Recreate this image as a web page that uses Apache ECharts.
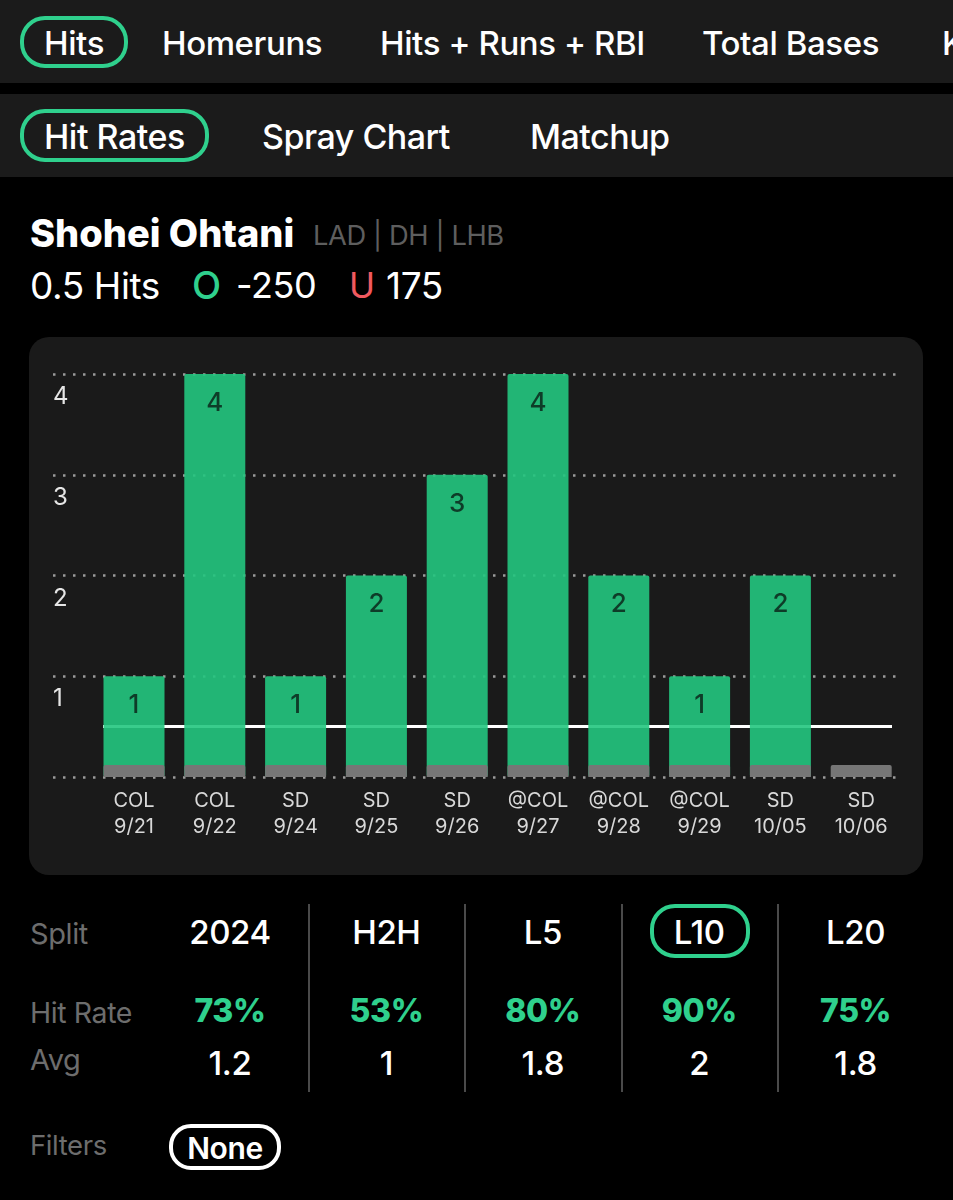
<!DOCTYPE html>
<html>
<head>
<meta charset="utf-8">
<script src="https://cdn.jsdelivr.net/npm/echarts@6/dist/echarts.min.js"></script>
<style>
html,body{margin:0;padding:0;background:#000;width:953px;height:1200px;overflow:hidden;font-family:Inter,"Noto Sans",sans-serif;}
.band{position:absolute;left:0;width:953px;height:83px;background:#1b1b1b;}
#card{position:absolute;left:29px;top:337px;width:894px;height:538px;background:#1a1a1a;border-radius:20px;}
#chart{position:absolute;left:0;top:0;width:953px;height:1200px;}
.t{position:absolute;white-space:nowrap;line-height:1;transform:translateY(-50%);letter-spacing:-0.4px;}
.c{transform:translate(-50%,-50%);}
.pill{position:absolute;box-sizing:border-box;border:4px solid #2fd08d;border-radius:24px;}
.div{position:absolute;width:2px;top:904px;height:188px;background:#4a4a4a;}
</style>
</head>
<body>
<div class="band" style="top:0"></div>
<div class="band" style="top:94px"></div>
<div id="card"></div>
<div id="ui"></div>
<div id="chart"></div>
<script>
// ----- chart data -----
const opponents = ['COL','COL','SD','SD','SD','@COL','@COL','@COL','SD','SD'];
const dates = ['9/21','9/22','9/24','9/25','9/26','9/27','9/28','9/29','10/05','10/06'];
const hits = [1,4,1,2,3,4,2,1,2,0];
const baseStub = [0.12,0.12,0.12,0.12,0.12,0.12,0.12,0.12,0.12,0.12];
const propLine = 0.5;
const yTicks = [0,1,2,3,4];
// ----- page text -----
const marketTabs = ['Hits','Homeruns','Hits + Runs + RBI','Total Bases','K'];
const viewTabs = ['Hit Rates','Spray Chart','Matchup'];
const splits = ['2024','H2H','L5','L10','L20'];
const hitRates = ['73%','53%','80%','90%','75%'];
const avgs = ['1.2','1','1.8','2','1.8'];

const ui = document.getElementById('ui');
function text(s,x,y,size,color,weight,center){
  const d=document.createElement('div');
  d.className='t'+(center?' c':'');
  d.textContent=s;
  d.style.cssText+=`left:${x}px;top:${y}px;font-size:${size}px;color:${color};font-weight:${weight||400};`;
  ui.appendChild(d);return d;
}
function pill(x,y,w,h,color,r){
  const d=document.createElement('div');
  d.className='pill';
  d.style.cssText+=`left:${x}px;top:${y}px;width:${w}px;height:${h}px;border-radius:${r}px;`+(color?`border-color:${color};`:'');
  ui.appendChild(d);
}
// top tabs
const tabX=[44,162,380,702,942];
marketTabs.forEach((s,i)=>text(s,tabX[i],43,33,'#fff',500));
pill(20,16,108,52,null,25);
const viewX=[44,262,530];
viewTabs.forEach((s,i)=>text(s,viewX[i],137,34,'#fff',500).style.letterSpacing='-0.5px');
pill(20,109,189,53,null,25);
// header
text('Shohei Ohtani',30,233,38,'#fff',800).style.letterSpacing='0';
text('LAD | DH | LHB',313,236,27.3,'#5e5e5e',400);
text('0.5 Hits',30,285,37,'#fff',400);
text('O',192,285,38,'#2fd08d',500);
text('-250',236,285,36,'#fff',400);
text('U',349,285,35,'#f0595f',400);
text('175',386,285,37,'#fff',400);
// split table
text('Split',30,933,29,'#6d6d6d',400);
text('Hit Rate',30,1013,28.5,'#6d6d6d',400);
text('Avg',30,1059,29,'#6d6d6d',400);
text('Filters',30,1146,27.5,'#6d6d6d',400);
splits.forEach((s,i)=>{
  const x=230+i*156.4;
  text(s,x,932,33,'#fff',500,true);
  text(hitRates[i],x,1011,32,'#2fd08d',800,true);
  text(avgs[i],x,1063,33,'#fff',500,true);
  if(i<4){const d=document.createElement('div');d.className='div';d.style.left=(308+i*156.4)+'px';ui.appendChild(d);}
});
pill(650,904,100,54,null,25);
pill(169,1124,112,46,'#fff',22);
text('None',225,1148,30,'#fff',600,true);

// ----- chart -----
const chart = echarts.init(document.getElementById('chart'),null,{renderer:'canvas'});
chart.setOption({
  animation:false,
  backgroundColor:'transparent',
  grid:[
    {left:53,top:374,width:845,height:403,containLabel:false},
    {left:93.6,top:374,width:808,height:403,containLabel:false}
  ],
  xAxis:[
    {gridIndex:0,type:'value',min:0,max:1,show:false},
    {gridIndex:1,type:'category',data:opponents.map((o,i)=>o+'\n'+dates[i]),
     axisLine:{show:false},axisTick:{show:false},
     axisLabel:{color:'#d8d8d8',fontSize:20,lineHeight:26,margin:11,interval:0,fontFamily:'Inter'}}
  ],
  yAxis:[
    {gridIndex:0,type:'value',min:0,max:4,interval:1,
     axisLine:{show:false},axisTick:{show:false},
     axisLabel:{inside:true,margin:0,color:'#e6e6e6',fontSize:24,fontFamily:'Inter',
       verticalAlign:'top',padding:[11,0,0,0],
       formatter:v=>yTicks.includes(v)&&v!==0?String(v):''},
     splitLine:{show:true,lineStyle:{color:'#9a9a9a',width:2.5,type:[2.5,7.5]}}},
    {gridIndex:1,type:'value',min:0,max:4,interval:1,show:false,splitLine:{show:false}}
  ],
  series:[
    {type:'bar',name:'Hits',xAxisIndex:1,yAxisIndex:1,data:hits,barWidth:61,barGap:'-100%',z:3,
     itemStyle:{color:'rgb(36,198,127)',opacity:0.9,borderRadius:2},
     label:{show:true,position:'insideTop',distance:16,color:'#0c2f20',fontSize:26,fontWeight:500,fontFamily:'Inter',
       formatter:p=>p.value>0?String(p.value):''},
     markLine:{silent:true,symbol:'none',z:1,label:{show:false},animation:false,
       lineStyle:{color:'#fff',width:3,type:'solid'},
       data:[[{coord:[0,propLine],x:103},{coord:[9,propLine],x:892}]]}},
    {type:'bar',name:'Base',xAxisIndex:1,yAxisIndex:1,data:baseStub,barWidth:61,barGap:'-100%',z:4,
     itemStyle:{color:'#767676',borderRadius:[2,2,0,0]}}
  ]
});
</script>
</body>
</html>
